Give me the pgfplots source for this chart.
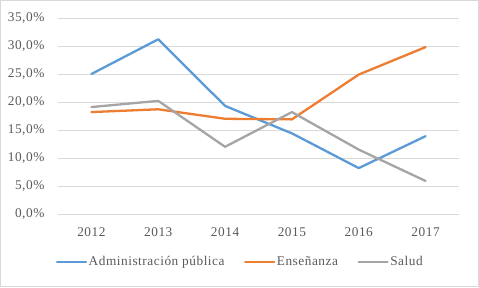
\documentclass[border=0pt]{standalone}
\usepackage{fontspec}
\setmainfont[LetterSpace=4]{Liberation Serif}
\usepackage{pgfplots}
\pgfplotsset{compat=1.18}
\definecolor{cblue}{HTML}{5B9BD5}
\definecolor{corange}{HTML}{ED7D31}
\definecolor{cgray}{HTML}{A5A5A5}
\definecolor{gridc}{HTML}{D9D9D9}
\definecolor{txt}{HTML}{595959}
\begin{document}
\begin{tikzpicture}[x=1pt,y=1pt]
\fontsize{13.3}{16}\selectfont
\draw[color=gridc, line width=1pt] (0.5,0.5) rectangle (478.5,286.5);
\begin{axis}[
  at={(58pt,73pt)}, anchor=south west,
  scale only axis, width=401pt, height=196pt,
  xmin=-0.5, xmax=5.5, ymin=0, ymax=35,
  ytick={0,5,...,35},
  xtick={0,1,2,3,4,5},
  xticklabels={2012,2013,2014,2015,2016,2017},
  axis line style={draw=none},
  tick style={draw=none},
  ymajorgrids,
  grid style={color=gridc, line width=0.75pt},
  /pgf/number format/assume math mode=true,
  yticklabel={\pgfmathprintnumber[fixed,fixed zerofill,precision=1,use comma]{\tick}\%},
  ticklabel style={font=\fontsize{13.3}{16}\selectfont, text=txt},
  yticklabel style={xshift=-9pt},
  xticklabel style={yshift=-9pt},
  legend columns=3,
  legend style={at={(0.454,-0.245)}, anchor=center, draw=none, fill=none,
    font=\fontsize{13.3}{16}\selectfont, text=txt,
    nodes={inner sep=1.5pt},
    /tikz/every even column/.append style={column sep=18pt}},
  legend image code/.code={\draw[#1, line width=2.3pt, line cap=round] (0pt,0pt) -- (29pt,0pt);},
  every axis plot/.append style={line width=2.3pt, line join=round, line cap=round},
]
\addplot[cblue] coordinates {(0,25.0) (1,31.2) (2,19.3) (3,14.4) (4,8.2) (5,13.9)};
\addlegendentry{Administración pública}
\addplot[corange] coordinates {(0,18.2) (1,18.7) (2,17.0) (3,16.9) (4,24.9) (5,29.8)};
\addlegendentry{Enseñanza}
\addplot[cgray] coordinates {(0,19.1) (1,20.2) (2,12.0) (3,18.2) (4,11.5) (5,5.9)};
\addlegendentry{Salud}
\end{axis}
\end{tikzpicture}
\end{document}
